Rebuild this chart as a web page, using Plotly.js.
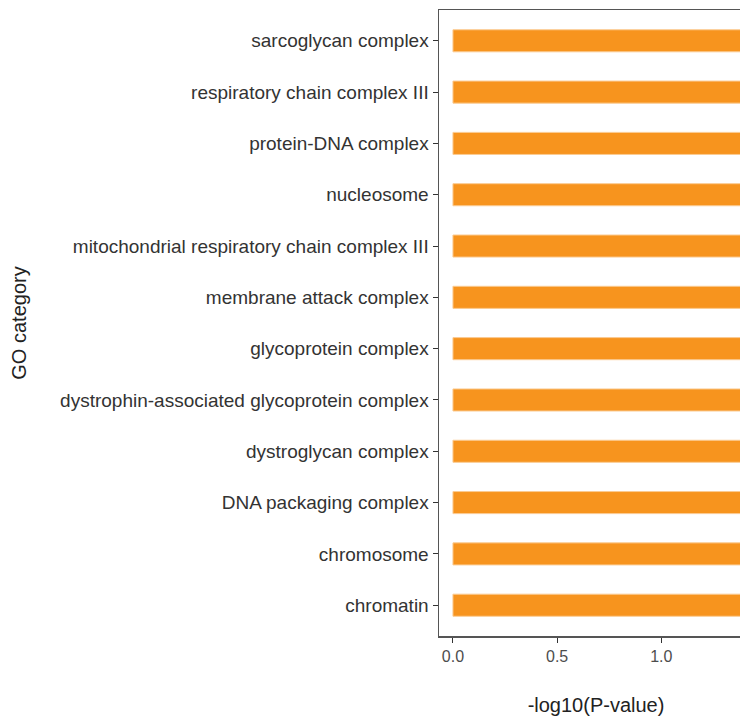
<!DOCTYPE html>
<html>
<head>
<meta charset="utf-8">
<script src="https://cdn.plot.ly/plotly-3.0.1.min.js"></script>
<style>
html,body{margin:0;padding:0;overflow:hidden;background:#fff;width:740px;height:719px;}
#chart{width:760px;height:719px;}
</style>
</head>
<body>
<div id="chart"></div>
<script>
// GO categories, listed bottom to top
const categories = [
  "chromatin",
  "chromosome",
  "DNA packaging complex",
  "dystroglycan complex",
  "dystrophin-associated glycoprotein complex",
  "glycoprotein complex",
  "membrane attack complex",
  "mitochondrial respiratory chain complex III",
  "nucleosome",
  "protein-DNA complex",
  "respiratory chain complex III",
  "sarcoglycan complex"
];
// -log10(P-value); bars run past the visible right edge, so values are estimates
const negLogP = [1.42, 1.42, 1.42, 1.42, 1.42, 1.42, 1.42, 1.42, 1.42, 1.42, 1.42, 1.42];
const xTickVals = [0, 0.5, 1.0, 1.5];
const xTickText = ["0.0", "0.5", "1.0", "1.5"];

const font = "Liberation Sans, Arial, Helvetica, sans-serif";

const trace = {
  type: "bar",
  orientation: "h",
  y: categories,
  x: negLogP,
  width: 0.43,
  marker: {color: "#F7941E", line: {color: "#FBCB92", width: 1}},
  hoverinfo: "x+y"
};

const layout = {
  width: 760,
  height: 719,
  margin: {l: 439, r: 7, t: 10, b: 83},
  paper_bgcolor: "#ffffff",
  plot_bgcolor: "#ffffff",
  showlegend: false,
  font: {family: font, color: "#333333"},
  xaxis: {
    range: [-0.067, 1.44],
    tickvals: xTickVals,
    ticktext: xTickText,
    ticks: "outside",
    ticklen: 5,
    tickwidth: 1,
    tickcolor: "#333333",
    showgrid: false,
    zeroline: false,
    showline: true,
    mirror: true,
    linecolor: "#555555",
    linewidth: 1.5,
    tickfont: {family: font, size: 16, color: "#4d4d4d"},
    title: {text: "-log10(P-value)", font: {family: font, size: 20, color: "#222222"}, standoff: 34},
    automargin: false,
    fixedrange: true
  },
  yaxis: {
    type: "category",
    categoryorder: "array",
    categoryarray: categories,
    range: [-0.6, 11.6],
    ticks: "outside",
    ticklen: 5,
    tickwidth: 1,
    tickcolor: "#333333",
    showgrid: false,
    zeroline: false,
    showline: true,
    mirror: true,
    linecolor: "#555555",
    linewidth: 1.5,
    tickfont: {family: font, size: 19, color: "#333333"},
    title: {text: "GO category", font: {family: font, size: 20, color: "#222222"}, standoff: 28},
    automargin: false,
    fixedrange: true
  }
};

Plotly.newPlot("chart", [trace], layout, {displayModeBar: false, staticPlot: true});
</script>
</body>
</html>
